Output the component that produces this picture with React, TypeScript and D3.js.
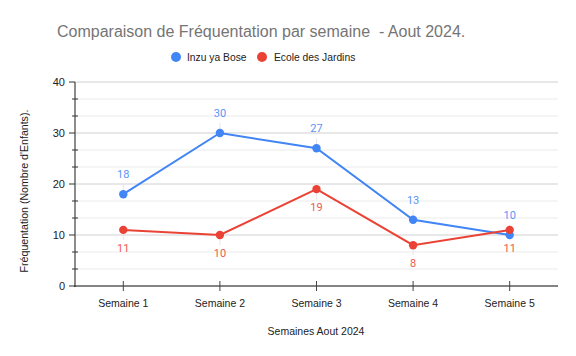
import React from "react";
import * as d3 from "d3";

const categories = ["Semaine 1", "Semaine 2", "Semaine 3", "Semaine 4", "Semaine 5"];
const inzuValues = [18, 30, 27, 13, 10];
const ecoleValues = [11, 10, 19, 8, 11];
const yTicks = [0, 10, 20, 30, 40];
const seriesNames = ["Inzu ya Bose", "Ecole des Jardins"];

const W = 576, H = 356;
const font = "'Liberation Sans', Arial, sans-serif";
const labelFont = "Roboto, Arial, sans-serif";

export default function App() {
  const x = d3.scaleBand<string>().domain(categories).range([75, 558]);
  const y = d3.scaleLinear().domain([0, 40]).range([286, 82]);
  const cx = (c: string) => (x(c) as number) + x.bandwidth() / 2;
  const minor: number[] = [];
  for (let i = 0; i <= 12; i++) minor.push((i * 10) / 3);
  const line = d3.line<number>().x((_, i) => cx(categories[i])).y((d) => y(d));
  const series = [
    { name: seriesNames[0], values: inzuValues, color: "#4285f4", lblColor: "#5a95f5", dy: -16 },
    { name: seriesNames[1], values: ecoleValues, color: "#ea4335", lblColor: "#ee5a4d", dy: 22 },
  ];
  return (
    <svg width={W} height={H} style={{ position: "absolute", left: 0, top: 0 }} fontFamily={font}>
      <rect width={W} height={H} fill="#fff" />
      <text x={57} y={37} fontSize={16} fill="#757575" style={{ whiteSpace: "pre" }}>
        {"Comparaison de Fréquentation par semaine  - Aout 2024."}
      </text>
      {/* legend */}
      <circle cx={176} cy={57} r={5} fill="#4285f4" />
      <text x={187} y={61} fontSize={10.3} fill="#222">{seriesNames[0]}</text>
      <circle cx={262} cy={57} r={5} fill="#ea4335" />
      <text x={274} y={61} fontSize={10.3} fill="#222">{seriesNames[1]}</text>
      {/* gridlines */}
      {minor.map((v, i) => (
        <line key={"g" + i} x1={75} x2={558} y1={y(v)} y2={y(v)} stroke={i % 3 === 0 ? "#d0d0d0" : "#ebebeb"} strokeWidth={1} />
      ))}
      {/* leader lines */}
      {series.map((s) =>
        s.values.map((v, i) => (
          <line key={s.name + "l" + i} x1={cx(categories[i])} x2={cx(categories[i])}
            y1={y(v)} y2={y(v) + (s.dy < 0 ? -10 : 10)} stroke="#e6e6e6" strokeWidth={1} />
        ))
      )}
      {/* y axis */}
      <line x1={75} x2={75} y1={82} y2={287} stroke="#666" strokeWidth={1.5} />
      {minor.map((v, i) =>
        i % 3 === 0 ? (
          <line key={"t" + i} x1={69} x2={75} y1={y(v)} y2={y(v)} stroke="#333" strokeWidth={1} />
        ) : (
          <line key={"t" + i} x1={72} x2={78} y1={y(v)} y2={y(v)} stroke="#333" strokeWidth={1} />
        )
      )}
      {yTicks.map((v) => (
        <text key={"yl" + v} x={65} y={y(v) + 4} textAnchor="end" fontSize={11} fill="#222">{v}</text>
      ))}
      <text transform={`translate(28,191) rotate(-90)`} textAnchor="middle" fontSize={10.6} fill="#222">
        Fréquentation (Nombre d'Enfants).
      </text>
      {/* x axis */}
      <line x1={74} x2={558} y1={286} y2={286} stroke="#222" strokeWidth={1.2} />
      {categories.map((c) => (
        <g key={c}>
          <line x1={cx(c)} x2={cx(c)} y1={281} y2={291} stroke="#444" strokeWidth={1} />
          <text x={cx(c)} y={307} textAnchor="middle" fontSize={10.5} fill="#222">{c}</text>
        </g>
      ))}
      <text x={316} y={335} textAnchor="middle" fontSize={10.5} fill="#222">Semaines Aout 2024</text>
      {/* series */}
      {series.map((s) => (
        <g key={s.name}>
          <path d={line(s.values) as string} fill="none" stroke={s.color} strokeWidth={2} />
          {s.values.map((v, i) => (
            <circle key={i} cx={cx(categories[i])} cy={y(v)} r={4.2} fill={s.color} />
          ))}
          {s.values.map((v, i) => (
            <text key={"t" + i} x={cx(categories[i])} y={y(v) + s.dy} textAnchor="middle" fontSize={11} fontFamily={labelFont} fill={s.lblColor}>{v}</text>
          ))}
        </g>
      ))}
    </svg>
  );
}
